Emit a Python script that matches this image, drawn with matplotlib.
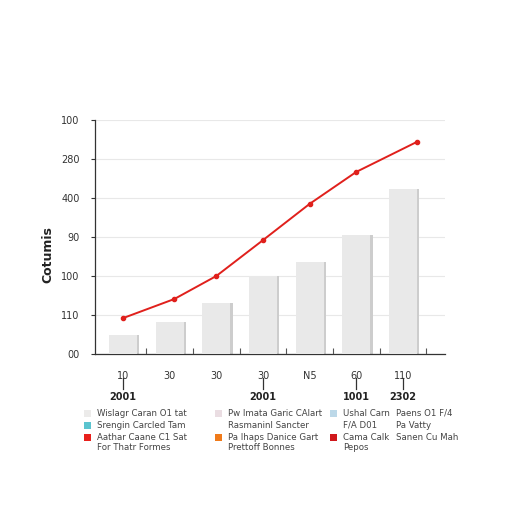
import matplotlib
matplotlib.use("Agg")
import matplotlib.pyplot as plt
import matplotlib.patches as patches
import numpy as np

# === data ===
bar_labels = ["10", "30", "30", "30", "N5", "60", "110"]
year_labels = ["2001", "", "", "2001", "", "1001", "2302"]
bar_heights = [0.49, 0.82, 1.31, 2.0, 2.36, 3.05, 4.23]
line_x = [0, 1.1, 2.0, 3.0, 4.0, 5.0, 6.3]
line_y = [0.92, 1.41, 2.0, 2.92, 3.85, 4.67, 5.44]
ytick_labels = ["00", "110", "100", "90", "400", "280", "100"]
y_title = "Cotumis"

legend_cols = [
    [("#ecebea", "Wislagr Caran O1 tat"), ("#5bc4cf", "Srengin Carcled Tam"),
     ("#e8201c", "Aathar Caane C1 Sat"), (None, "For Thatr Formes")],
    [("#eadde2", "Pw Imata Garic CAlart"), (None, "Rasmaninl Sancter"),
     ("#f07a1a", "Pa Ihaps Danice Gart"), (None, "Prettoff Bonnes")],
    [("#bcd8e8", "Ushal Carn"), (None, "F/A D01"),
     ("#d0181c", "Cama Calk"), (None, "Pepos")],
    [(None, "Paens O1 F/4"), (None, "Pa Vatty"), (None, "Sanen Cu Mah")],
]

fig = plt.figure(figsize=(5.12, 5.12), dpi=100)
fig.patch.set_facecolor("white")
ax = fig.add_axes([95 / 512, 1 - 354 / 512, 350 / 512, 234 / 512])

x = np.arange(len(bar_heights))
# soft shadow behind bars
ax.bar(x + 0.05, bar_heights, width=0.6, color="#cdcdcd", zorder=2)
ax.bar(x, bar_heights, width=0.6, color="#e9e9e9", zorder=3)

ax.plot(line_x, line_y, color="#e0201c", lw=1.4, marker="o", ms=3, zorder=5)

ax.set_xlim(-0.6, 6.9)
ax.set_ylim(0, 6)
ax.set_yticks(range(7))
ax.set_yticklabels(ytick_labels, fontsize=7, color="#333333")
ax.yaxis.grid(True, color="#e8e8e8", lw=0.8, zorder=0)
ax.set_axisbelow(True)

ax.set_xticks(x + 0.5)
ax.set_xticklabels([])
ax.tick_params(axis="x", direction="in", length=4, color="#555555")
ax.tick_params(axis="y", direction="out", length=3, color="#333333", pad=8)

for s in ["top", "right"]:
    ax.spines[s].set_visible(False)
for s in ["left", "bottom"]:
    ax.spines[s].set_color("#333333")
    ax.spines[s].set_linewidth(0.9)

# category labels and year labels under the axis
for i, lab in enumerate(bar_labels):
    ax.annotate(lab, (i, 0), xytext=(0, -16), textcoords="offset points",
                ha="center", va="center", fontsize=7, color="#333333",
                annotation_clip=False)
    if year_labels[i]:
        ax.plot([i, i], [-0.62, -0.9], color="#333333", lw=0.9, clip_on=False)
        ax.annotate(year_labels[i], (i, 0), xytext=(0, -31), textcoords="offset points",
                    ha="center", va="center", fontsize=7, fontweight="bold",
                    color="#222222", annotation_clip=False)

fig.text(48 / 512, 1 - 255 / 512, y_title, rotation=90, ha="center", va="center",
         fontsize=9, fontweight="bold", color="#222222")

# legend block
col_x = [87, 218, 333, 396]
row_y = [413, 425, 437, 448]
for cx, col in zip(col_x, legend_cols):
    for ry, (c, txt) in zip(row_y, col):
        if c is not None:
            fig.patches.append(patches.Rectangle(
                ((cx - 3) / 512, 1 - (ry + 3.5) / 512), 7 / 512, 7 / 512,
                transform=fig.transFigure, facecolor=c, edgecolor="none"))
        tx = cx if cx == 396 else cx + 10
        fig.text(tx / 512, 1 - ry / 512, txt, ha="left", va="center",
                 fontsize=6.2, color="#444444")

fig.savefig("out.png", dpi=100, facecolor="white")
